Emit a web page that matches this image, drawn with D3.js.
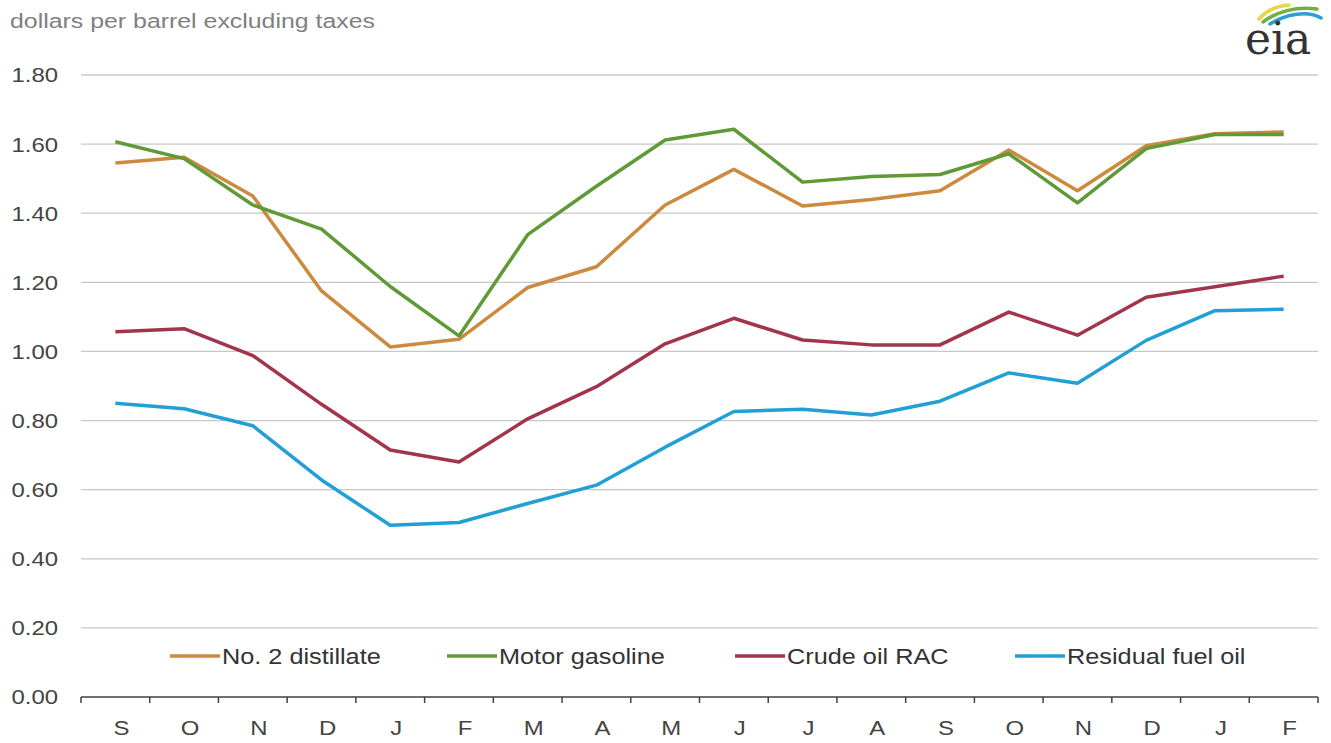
<!DOCTYPE html>
<html><head><meta charset="utf-8">
<script src="https://cdn.jsdelivr.net/npm/d3@7"></script>
<style>
html,body{margin:0;padding:0;background:#fff;}
svg{display:block;font-family:"Liberation Sans",Arial,sans-serif;}
</style></head>
<body>
<svg id="chart" width="1331" height="743"></svg>
<script>
const months = ["S","O","N","D","J","F","M","A","M","J","J","A","S","O","N","D","J","F"];
const yTicks = [0,0.2,0.4,0.6,0.8,1.0,1.2,1.4,1.6,1.8];
const distillate = [1.545,1.562,1.450,1.175,1.013,1.035,1.185,1.245,1.424,1.527,1.421,1.440,1.465,1.583,1.465,1.595,1.630,1.635];
const gasoline   = [1.607,1.558,1.424,1.354,1.188,1.045,1.338,1.478,1.612,1.643,1.490,1.506,1.512,1.572,1.430,1.587,1.628,1.628];
const crude      = [1.057,1.066,0.988,0.847,0.715,0.680,0.805,0.898,1.022,1.096,1.033,1.019,1.019,1.114,1.047,1.157,1.187,1.218];
const residual   = [0.850,0.834,0.785,0.628,0.497,0.505,0.560,0.613,0.723,0.826,0.833,0.816,0.856,0.938,0.908,1.032,1.118,1.122];
const seriesNames = ["No. 2 distillate","Motor gasoline","Crude oil RAC","Residual fuel oil"];
const seriesColors = ["#CC8A3E","#5F9A37","#A2354B","#22A0D6"];
const seriesData = [distillate, gasoline, crude, residual];

const svg = d3.select("#chart");
const pL = 81, pR = 1318, pT = 75, pB = 697;
const x = d3.scaleBand().domain(d3.range(months.length)).range([pL, pR]);
const y = d3.scaleLinear().domain([0, 1.8]).range([pB, pT]);
const sx = 1.14;
const stretchAt = (ax, s) => `translate(${ax},0) scale(${s},1) translate(${-ax},0)`;

// title
svg.append("text").attr("x", 10).attr("y", 28).attr("fill", "#808080")
  .attr("font-size", 21).text("dollars per barrel excluding taxes")
  .attr("transform", stretchAt(10, 1.185));

// gridlines
svg.append("g").selectAll("line").data(yTicks.filter(d => d > 0)).join("line")
  .attr("x1", pL).attr("x2", pR)
  .attr("y1", d => y(d)).attr("y2", d => y(d))
  .attr("stroke", "#c8c8c8").attr("stroke-width", 1.3);

// y labels
svg.append("g").selectAll("text").data(yTicks).join("text")
  .attr("x", 58).attr("y", d => y(d) + 7.5)
  .attr("text-anchor", "end").attr("font-size", 21).attr("fill", "#444")
  .text(d => d3.format(".2f")(d))
  .attr("transform", stretchAt(58, sx));

// x axis
const xAxis = svg.append("g").attr("transform", `translate(0,${pB})`);
xAxis.append("line").attr("x1", pL).attr("x2", pR).attr("y1", 0).attr("y2", 0)
  .attr("stroke", "#404040").attr("stroke-width", 1.5);
xAxis.selectAll("line.tick").data(d3.range(months.length + 1)).join("line")
  .attr("class", "tick")
  .attr("x1", i => pL + i * x.step()).attr("x2", i => pL + i * x.step())
  .attr("y1", 0).attr("y2", 6).attr("stroke", "#404040").attr("stroke-width", 1.5);
xAxis.selectAll("text").data(months).join("text")
  .attr("x", (d, i) => x(i) + x.bandwidth() / 2 + 6).attr("y", 38)
  .attr("text-anchor", "middle").attr("font-size", 21).attr("fill", "#444")
  .text(d => d)
  .each(function(d, i){ const cx = x(i) + x.bandwidth()/2 + 6; d3.select(this).attr("transform", stretchAt(cx, sx)); });

// lines
const line = d3.line().x((d, i) => x(i) + x.bandwidth() / 2).y(d => y(d));
seriesData.forEach((s, k) => {
  svg.append("path").datum(s).attr("d", line).attr("fill", "none")
    .attr("stroke", seriesColors[k]).attr("stroke-width", 3.5)
    .attr("stroke-linejoin", "round");
});

// legend
const legX = [170, 447, 735, 1015];
const leg = svg.append("g");
seriesNames.forEach((n, k) => {
  leg.append("line").attr("x1", legX[k]).attr("x2", legX[k] + 50).attr("y1", 656).attr("y2", 656)
    .attr("stroke", seriesColors[k]).attr("stroke-width", 3.5);
  const tx = legX[k] + 52;
  leg.append("text").attr("x", tx).attr("y", 664).attr("font-size", 22).attr("fill", "#333")
    .text(n).attr("transform", stretchAt(tx, 1.15));
});

// eia logo
const logo = svg.append("g");
logo.append("path").attr("d", "M1259,19 C1266,11 1276,6 1289,5").attr("fill", "none").attr("stroke", "#e6d64a").attr("stroke-width", 3.5).attr("stroke-linecap", "round");
logo.append("path").attr("d", "M1263,22 C1276,12 1296,6 1317,9").attr("fill", "none").attr("stroke", "#72b043").attr("stroke-width", 3.5).attr("stroke-linecap", "round");
logo.append("path").attr("d", "M1270,24 C1286,14 1308,10 1321,18").attr("fill", "none").attr("stroke", "#2a9fd8").attr("stroke-width", 3.5).attr("stroke-linecap", "round");
logo.append("text").attr("x", 1245).attr("y", 54).attr("font-family", "'DejaVu Serif','Liberation Serif',serif")
  .attr("font-size", 44).attr("fill", "#333").text("eia");
</script>
</body></html>
